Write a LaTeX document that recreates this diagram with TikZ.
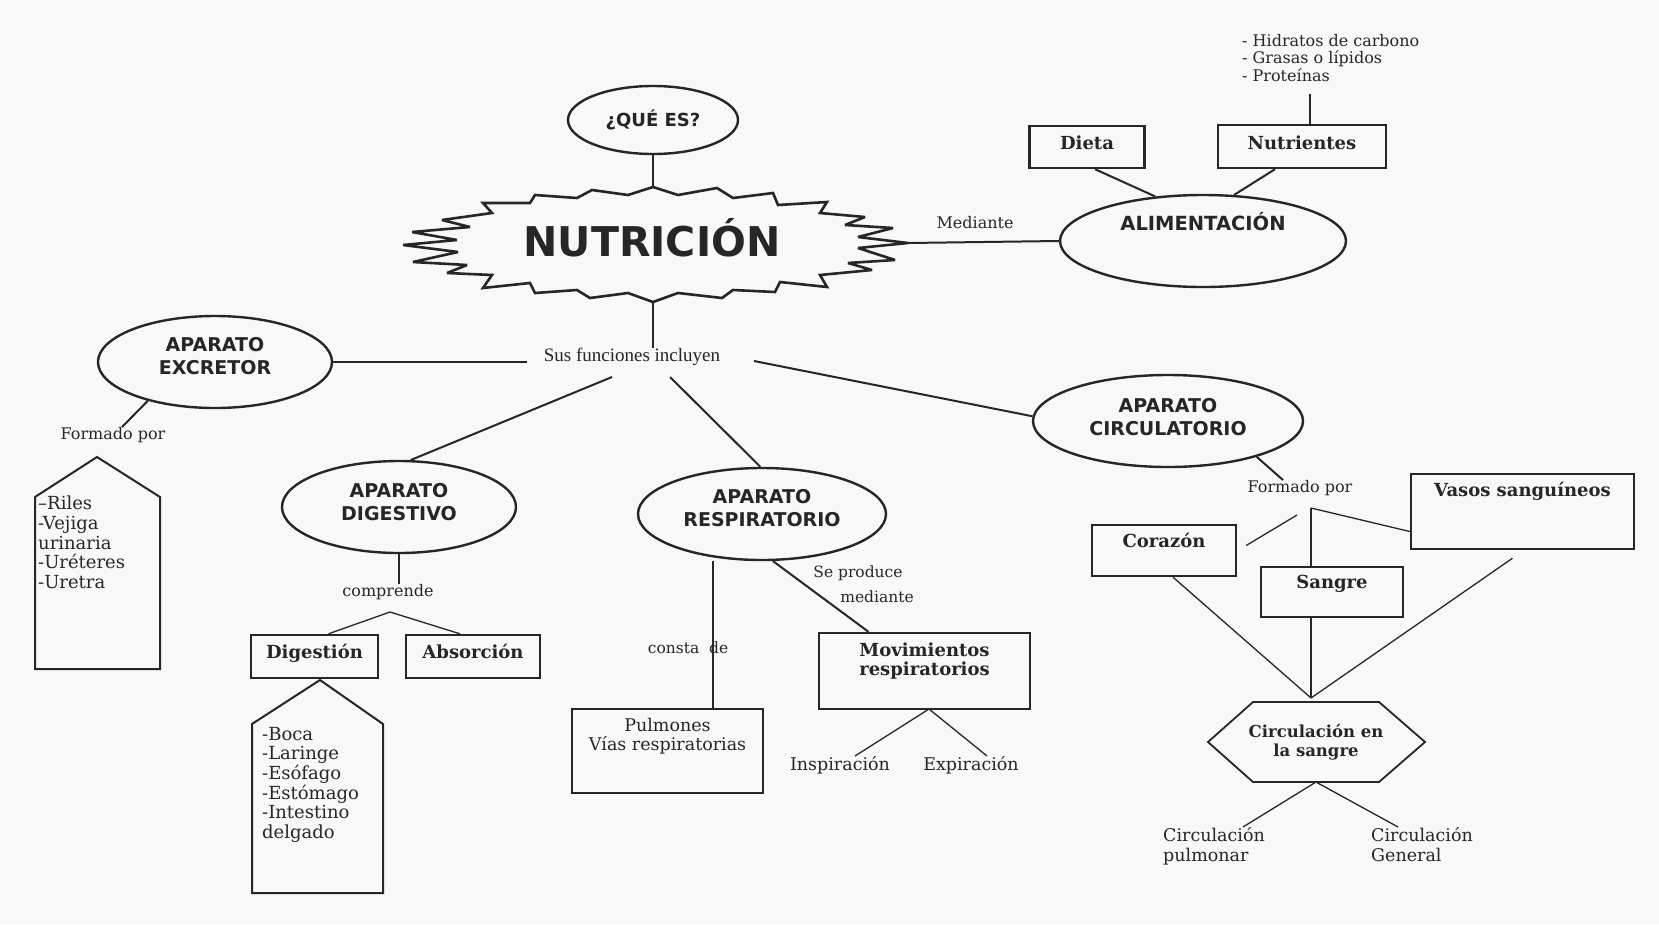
\documentclass[tikz,border=0pt]{standalone}
\usepackage{fontspec}
\setmainfont{DejaVu Serif}
\newfontfamily\hdfont{DejaVu Sans}
\newfontfamily\tmsfont{Liberation Serif}
\usetikzlibrary{shapes.geometric}
\definecolor{ink}{HTML}{262626}
\definecolor{paper}{HTML}{F8F8F8}
\begin{document}
\begin{tikzpicture}[x=1pt,y=-1pt,
  every node/.style={text=ink},
  ell/.style={ellipse, draw=ink, line width=2.4pt, inner sep=0pt, align=center,
    font=\hdfont\bfseries\fontsize{19}{23}\selectfont},
  bx/.style={rectangle, draw=ink, line width=2.4pt, inner sep=0pt, align=center,
    font=\bfseries\fontsize{18}{19}\selectfont},
  rbx/.style={rectangle, draw=ink, line width=2.2pt, inner sep=0pt, align=center,
    font=\fontsize{17.5}{19}\selectfont},
  lbl/.style={inner sep=0pt, font=\fontsize{16}{19}\selectfont},
  lbb/.style={inner sep=0pt, font=\fontsize{17.5}{20}\selectfont},
  conn/.style={draw=ink, line width=2pt},
  thin/.style={draw=ink, line width=1.3pt},
  lst/.style={inner sep=0pt, align=left, anchor=north west,
    font=\fontsize{18}{19.6}\selectfont},
]
\fill[paper] (0,0) rectangle (1659,924);

% ---- top: Que es / Nutricion ----
\node[ell, minimum width=170pt, minimum height=68pt,
  font=\hdfont\bfseries\fontsize{18}{20}\selectfont] (quees) at (653,120) {¿QUÉ ES?};
\draw[draw=ink, line width=2.6pt, line join=miter, miter limit=2.5]
  (653,187) -- (678,195) -- (717,188) -- (733,198) -- (773,193) -- (778,205) --
  (827,202) -- (820,213) -- (865,217) -- (845,225) -- (893,228) -- (858,237) --
  (908,243) -- (858,248) -- (895,260) -- (848,263) -- (872,270) -- (820,275) --
  (827,287) -- (780,282) -- (775,292) -- (733,290) -- (722,298) -- (678,293) --
  (653,302) -- (628,293) -- (590,298) -- (577,290) -- (535,293) -- (530,283) --
  (483,288) -- (492,275) -- (447,273) -- (467,265) -- (413,262) -- (458,252) --
  (403,245) -- (457,240) -- (412,232) -- (470,227) -- (442,220) -- (492,213) --
  (483,203) -- (530,203) -- (535,195) -- (577,198) -- (592,190) -- (628,195) -- cycle;
\node[inner sep=0pt, font=\hdfont\bfseries\fontsize{41}{44}\selectfont] (nut) at (652,238) {NUTRICIÓN};
\coordinate (startop) at (653,187);
\coordinate (starbot) at (653,302);
\coordinate (starright) at (908,243);
\draw[conn] (quees.south) -- (startop);

\node[inner sep=0pt, font=\tmsfont\fontsize{19}{21}\selectfont] (sus) at (632,357) {Sus funciones incluyen};
\draw[conn] (starbot) -- (starbot |- sus.north);

% ---- alimentacion ----
\node[ell, minimum width=286pt, minimum height=92pt, text height=14pt, text depth=36pt,
  font=\hdfont\bfseries\fontsize{19.5}{22}\selectfont] (alim) at (1203,241) {ALIMENTACIÓN};
\draw[conn] (starright) -- (alim.west);
\node[lbl] (med) at (975,223) {Mediante};
\node[bx, minimum width=115pt, text height=23pt, text depth=19pt] (dieta) at (1087,147) {Dieta};
\node[bx, minimum width=168pt, text height=24pt, text depth=19pt] (nutr) at (1302,146.5) {Nutrientes};
\draw[conn] ([xshift=8pt]dieta.south) -- (alim.137);
\draw[conn] ([xshift=-27pt]nutr.south) -- (alim.56);
\node[lst, font=\fontsize{16}{17.5}\selectfont] (nlist) at (1242,34)
  {- Hidratos de carbono\\- Grasas o lípidos\\- Proteínas};
\coordinate (ntop) at (1310,94);
\draw[conn] ([xshift=8pt]nutr.north) -- (ntop);

% ---- excretor ----
\node[ell, minimum width=234pt, minimum height=92pt, text depth=12pt] (exc) at (215,362) {APARATO\\EXCRETOR};
\coordinate (susW) at (527,362);
\draw[conn] (exc.east) -- (susW);
\node[lbl] (formE) at (113,435) {Formado por};
\draw[conn] (exc.210) -- ([xshift=9pt]formE.north);
\draw[draw=ink, line width=2pt] (35,497) -- (97,457) -- (160,497) -- (160,669) -- (35,669) -- cycle;
\node[lst] (exclist) at (38,496) {–Riles\\-Vejiga\\urinaria\\-Uréteres\\-Uretra};

% ---- digestivo ----
\node[ell, minimum width=234pt, minimum height=92pt, text depth=10pt] (dig) at (399,507) {APARATO\\DIGESTIVO};
\coordinate (susD) at (612,377);
\draw[conn] (susD) -- (dig.76);
\node[lbl] (comp) at (388,592) {comprende};
\draw[conn] (dig.south) -- (dig.south |- comp.north);
\coordinate (compA) at (390,612);
\node[bx, minimum width=127pt, text height=23pt, text depth=20pt] (dg) at (314.5,656.5) {Digestión};
\node[bx, minimum width=134pt, text height=23pt, text depth=20pt] (ab) at (473,656.5) {Absorción};
\draw[thin] ([xshift=14pt]dg.north) -- (compA) -- ([xshift=-13pt]ab.north);
\draw[draw=ink, line width=2pt] (252,724) -- (320,680) -- (383,724) -- (383,893) -- (252,893) -- cycle;
\node[lst] (diglist) at (262,727) {-Boca\\-Laringe\\-Esófago\\-Estómago\\-Intestino\\delgado};

% ---- respiratorio ----
\node[ell, minimum width=248pt, minimum height=92pt, text depth=12pt] (resp) at (762,514) {APARATO\\RESPIRATORIO};
\coordinate (susR) at (670,377);
\draw[conn] (susR) -- (resp.92);
\node[rbx, minimum width=191pt, text height=41pt, text depth=43pt] (pulm) at (667.5,751) {Pulmones\\Vías respiratorias};
\draw[conn] ([xshift=45pt]pulm.north) -- ([xshift=45pt]pulm.north |- resp.south);
\node[lbl, font=\fontsize{15.5}{18}\selectfont] (consta) at (688,648) {consta\ \ de};
\node[bx, minimum width=211pt, text height=42pt, text depth=34pt] (mov) at (924.5,671) {Movimientos\\respiratorios};
\draw[conn] (resp.-77) -- ([xshift=-56pt]mov.north);
\node[lbl, font=\fontsize{15.5}{18}\selectfont] (sep) at (858,573) {Se produce};
\node[lbl, font=\fontsize{15.5}{18}\selectfont] (medi) at (877,597) {mediante};
\node[lbb] (insp) at (840,765) {Inspiración};
\node[lbb] (expi) at (971,765) {Expiración};
\coordinate (movB) at (929,709);
\draw[thin] ([xshift=15pt]insp.north) -- (movB) -- ([xshift=16pt]expi.north);

% ---- circulatorio ----
\node[ell, minimum width=270pt, minimum height=92pt, text depth=8pt] (circ) at (1168,421) {APARATO\\CIRCULATORIO};
\coordinate (susC) at (754,361);
\draw[conn] (susC) -- (circ.178);
\node[lbl] (formC) at (1300,488) {Formado por};
\draw[conn] (circ.-22) -- ([xshift=-17pt]formC.north);
\coordinate (circA) at (1311,508);
\node[bx, minimum width=144pt, text height=22pt, text depth=29pt] (cor) at (1164,550.5) {Corazón};
\node[bx, minimum width=142pt, text height=21pt, text depth=29pt] (sang) at (1332,592) {Sangre};
\node[bx, minimum width=223pt, text height=22pt, text depth=53pt] (vasos) at (1522.5,511.5) {Vasos sanguíneos};
\coordinate (cg1) at (1297,515);
\draw[thin] (cg1) -- ([shift={(9pt,5pt)}]cor.east);
\draw[thin] (circA) -- ([xshift=-21pt]sang.north);
\draw[thin] (circA) -- ([yshift=-20pt]vasos.west);
\coordinate (hexT) at (1311,698);
\draw[thin] ([xshift=9pt]cor.south) -- (hexT);
\draw[thin] ([xshift=-21pt]sang.south) -- (hexT);
\draw[thin] ([shift={(-10pt,-8pt)}]vasos.south) -- (hexT);
\draw[draw=ink, line width=1.8pt] (1208,742) -- (1253,702) -- (1379,702) -- (1425,742) -- (1379,782) -- (1253,782) -- cycle;
\node[inner sep=0pt, align=center, font=\bfseries\fontsize{16.5}{19}\selectfont] (hex) at (1316,742) {Circulación en\\la sangre};
\coordinate (hexB) at (1316,782);
\node[lst, font=\fontsize{17.5}{20}\selectfont] (cpul) at (1163,827) {Circulación\\pulmonar};
\node[lst, font=\fontsize{17.5}{20}\selectfont] (cgen) at (1371,827) {Circulación\\General};
\draw[thin] ([xshift=80pt]cpul.north west) -- (hexB) -- ([xshift=27pt]cgen.north west);
\end{tikzpicture}
\end{document}
